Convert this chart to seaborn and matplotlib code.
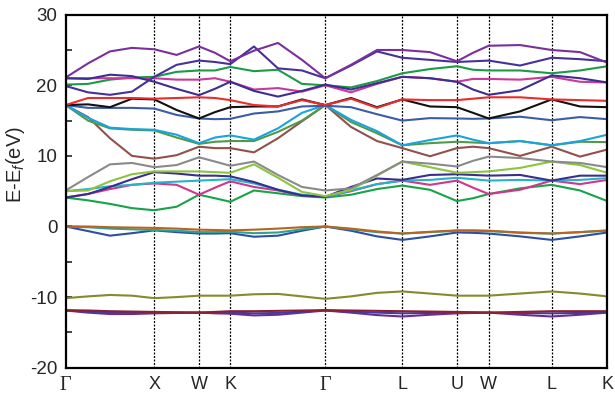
import matplotlib
matplotlib.use("Agg")
import matplotlib.pyplot as plt
from matplotlib.ticker import MultipleLocator
import pandas as pd
import seaborn as sns

# High-symmetry points of the fcc Brillouin-zone path
sym_labels = ["Γ", "X", "W", "K", "Γ", "L", "U", "W", "L", "K"]
sym_k = [0.0, 1.0, 1.505, 1.858, 2.930, 3.799, 4.416, 4.774, 5.485, 6.113]

# k-points along the path where the band energies are tabulated
kpts = [0.0, 0.252, 0.5, 0.748, 1.0, 1.252, 1.505, 1.685, 1.858, 2.125, 2.396, 2.667,
        2.930, 3.220, 3.514, 3.799, 4.112, 4.416, 4.597, 4.774, 5.128, 5.485, 5.805, 6.113]

# Band energies E - E_f (eV)
purple_low = [-11.9, -12.2, -12.4, -12.4, -12.3, -12.25, -12.2, -12.3, -12.35, -12.6, -12.5, -12.2,
              -11.9, -12.2, -12.55, -12.75, -12.5, -12.3, -12.25, -12.2, -12.5, -12.75, -12.5, -12.2]
blue_low = [-11.9, -12.05, -12.15, -12.2, -12.2, -12.2, -12.2, -12.2, -12.2, -12.3, -12.25, -12.05,
            -11.9, -12.05, -12.2, -12.3, -12.25, -12.2, -12.2, -12.2, -12.25, -12.3, -12.25, -12.2]
darkred_low = [-11.85, -11.9, -12.0, -12.05, -12.1, -12.15, -12.2, -12.1, -12.0, -12.0, -11.95, -11.9,
               -11.85, -11.9, -11.95, -12.0, -12.05, -12.1, -12.15, -12.2, -12.1, -12.0, -12.0, -12.0]
olive = [-10.15, -9.9, -9.7, -9.8, -10.15, -10.0, -9.8, -9.8, -9.8, -9.6, -9.55, -9.9,
         -10.25, -9.9, -9.4, -9.2, -9.5, -9.8, -9.8, -9.8, -9.5, -9.2, -9.5, -9.9]
blue_v = [0.0, -0.65, -1.3, -0.95, -0.55, -0.8, -1.0, -1.0, -0.95, -1.45, -1.3, -0.6,
          0.0, -0.6, -1.4, -1.9, -1.4, -0.85, -0.9, -1.0, -1.4, -1.9, -1.4, -0.85]
teal_v = [0.0, -0.1, -0.3, -0.4, -0.5, -0.6, -0.8, -0.8, -0.75, -0.95, -0.85, -0.4,
          0.0, -0.4, -0.8, -1.0, -0.8, -0.6, -0.6, -0.65, -0.9, -1.0, -0.8, -0.6]
orange_v = [0.0, 0.0, -0.1, -0.15, -0.2, -0.3, -0.45, -0.5, -0.55, -0.45, -0.3, -0.1,
            0.0, -0.3, -0.7, -1.0, -0.75, -0.55, -0.55, -0.6, -0.85, -1.0, -0.8, -0.55]
green_c1 = [4.1, 3.7, 3.2, 2.6, 2.3, 2.8, 4.5, 4.0, 3.5, 5.1, 4.7, 4.3,
            4.1, 4.5, 5.3, 5.8, 5.2, 3.6, 4.0, 4.6, 5.4, 5.9, 5.1, 3.6]
magenta_c1 = [4.1, 4.6, 5.3, 5.9, 6.1, 5.9, 4.5, 5.5, 6.4, 5.6, 5.1, 4.4,
              4.2, 5.0, 6.0, 6.5, 5.9, 6.5, 5.5, 4.6, 5.2, 6.5, 6.0, 6.6]
teal_c1 = [5.0, 5.3, 5.7, 5.9, 6.2, 6.35, 6.5, 6.6, 6.7, 6.1, 5.2, 4.5,
           4.2, 5.1, 6.0, 6.5, 6.6, 6.9, 6.7, 6.5, 6.6, 6.5, 6.6, 6.85]
indigo_c1 = [4.1, 4.6, 5.6, 6.7, 7.7, 7.5, 7.2, 7.2, 7.1, 6.3, 5.2, 4.4,
             4.2, 5.6, 6.8, 6.6, 7.3, 7.4, 7.3, 7.2, 7.3, 6.5, 7.2, 7.2]
yellowgreen_c = [5.0, 5.1, 6.4, 7.4, 7.8, 7.8, 7.8, 7.7, 7.6, 8.8, 6.9, 4.9,
                 4.3, 5.2, 7.2, 9.2, 8.4, 7.6, 7.7, 7.8, 8.3, 9.2, 8.7, 7.6]
gray_c = [5.1, 7.0, 8.8, 9.0, 8.4, 8.7, 9.8, 9.2, 8.6, 9.2, 7.3, 5.6,
          5.1, 5.4, 7.3, 9.2, 8.9, 8.5, 9.3, 9.9, 9.7, 9.2, 9.0, 8.4]
brown_c = [17.2, 15.5, 12.5, 10.0, 9.6, 10.1, 11.3, 11.1, 11.1, 10.5, 12.5, 14.9,
           17.2, 14.1, 12.1, 11.1, 9.95, 11.1, 11.3, 11.1, 10.0, 11.3, 9.9, 10.9]
green_c2 = [17.2, 15.0, 13.9, 13.7, 13.6, 12.6, 11.7, 12.0, 12.1, 12.1, 13.4, 15.0,
            17.2, 14.8, 13.2, 11.5, 11.8, 12.0, 11.9, 11.8, 12.1, 11.5, 12.0, 11.95]
cyan_c = [17.2, 15.4, 14.0, 13.8, 13.7, 13.0, 11.8, 12.6, 12.9, 12.3, 13.9, 16.1,
          17.2, 15.1, 13.5, 11.5, 12.25, 12.9, 12.3, 11.8, 12.1, 11.5, 12.1, 13.0]
steel_c = [17.2, 16.8, 16.8, 16.8, 16.7, 15.8, 15.3, 15.2, 15.25, 16.0, 16.3, 17.0,
           17.1, 16.9, 15.9, 15.0, 15.35, 15.3, 15.25, 15.3, 15.55, 15.05, 15.5, 15.2]
black_c = [17.2, 17.3, 16.9, 18.1, 18.0, 16.5, 15.3, 16.2, 16.9, 17.0, 17.0, 18.0,
           17.2, 18.2, 16.9, 18.0, 17.0, 16.9, 16.1, 15.3, 16.3, 18.0, 17.0, 16.9]
red_c = [17.2, 18.2, 18.2, 18.2, 18.1, 18.2, 18.3, 18.2, 17.9, 17.2, 17.0, 17.9,
         17.2, 18.1, 16.8, 18.0, 17.9, 17.9, 18.1, 18.3, 18.3, 18.0, 17.9, 17.8]
green_c3 = [20.1, 20.2, 20.8, 21.1, 21.2, 21.9, 22.1, 22.1, 22.6, 22.0, 22.2, 20.2,
            20.0, 19.7, 20.6, 21.7, 22.3, 22.7, 22.2, 22.1, 22.1, 21.7, 22.1, 22.7]
magenta_c2 = [21.0, 21.0, 21.0, 21.0, 21.0, 20.8, 20.8, 21.0, 20.5, 19.4, 19.6, 19.1,
              20.0, 19.0, 20.2, 21.2, 21.0, 20.5, 20.9, 20.9, 20.8, 21.2, 20.5, 20.4]
indigo_c2 = [21.0, 20.9, 21.5, 21.3, 20.5, 19.5, 18.6, 19.5, 20.5, 19.2, 18.4, 19.2,
             20.1, 19.4, 20.3, 21.2, 21.0, 20.5, 19.4, 18.65, 19.3, 21.4, 21.0, 20.4]
indigo_c3 = [19.9, 19.0, 18.65, 19.1, 21.2, 22.9, 23.5, 23.3, 23.0, 25.5, 22.4, 22.1,
             21.0, 22.8, 24.8, 23.9, 23.6, 23.3, 23.4, 23.5, 22.8, 23.9, 23.7, 23.4]
purple_top = [21.1, 23.1, 24.8, 25.3, 25.1, 24.3, 25.5, 24.6, 23.4, 24.9, 26.0, 23.6,
              21.0, 22.9, 25.0, 25.0, 24.7, 23.4, 24.6, 25.6, 25.7, 25.0, 24.7, 23.2]

bands = {
    "purple_low": (purple_low, "#6c2b93"),
    "blue_low": (blue_low, "#3c3ea0"),
    "darkred_low": (darkred_low, "#8e1f2f"),
    "olive": (olive, "#858a2a"),
    "blue_v": (blue_v, "#2e4fa0"),
    "teal_v": (teal_v, "#2aa39a"),
    "orange_v": (orange_v, "#b8651f"),
    "green_c1": (green_c1, "#17a348"),
    "magenta_c1": (magenta_c1, "#d2358c"),
    "teal_c1": (teal_c1, "#22b4c8"),
    "indigo_c1": (indigo_c1, "#3a2d90"),
    "yellowgreen_c": (yellowgreen_c, "#8cc440"),
    "gray_c": (gray_c, "#8a8a8a"),
    "brown_c": (brown_c, "#93504a"),
    "green_c2": (green_c2, "#4f9a48"),
    "cyan_c": (cyan_c, "#1aa3de"),
    "steel_c": (steel_c, "#3b5ca6"),
    "black_c": (black_c, "#111111"),
    "red_c": (red_c, "#ee2b2b"),
    "green_c3": (green_c3, "#1b9a48"),
    "magenta_c2": (magenta_c2, "#c9399a"),
    "indigo_c2": (indigo_c2, "#3f2d8f"),
    "indigo_c3": (indigo_c3, "#46309a"),
    "purple_top": (purple_top, "#7b2f9e"),
}

rows = []
for name, (energies, _) in bands.items():
    for k, e in zip(kpts, energies):
        rows.append({"k": k, "E": e, "band": name})
df = pd.DataFrame(rows)
palette = {name: color for name, (_, color) in bands.items()}

sns.set_style("white")
plt.rcParams["mathtext.fontset"] = "custom"
plt.rcParams["mathtext.rm"] = "Liberation Sans"
plt.rcParams["mathtext.it"] = "Liberation Sans:italic"
plt.rcParams["font.family"] = ["Liberation Sans", "DejaVu Sans"]
plt.rcParams["axes.unicode_minus"] = False

fig = plt.figure(figsize=(6.15, 3.96), dpi=100)
ax = fig.add_axes([0.1068, 0.0715, 0.8807, 0.8914])

# dotted guides at the interior high-symmetry points
for k in sym_k[1:-1]:
    ax.axvline(k, color="black", linestyle=(0, (1.6, 1.2)), linewidth=0.9, zorder=1)

sns.lineplot(data=df, x="k", y="E", hue="band", palette=palette, hue_order=list(bands),
             units="band", estimator=None, sort=False, linewidth=1.5, legend=False, ax=ax)
for line in ax.lines:
    line.set_solid_joinstyle("round")

ax.set_xlim(sym_k[0], sym_k[-1])
ax.set_ylim(-20, 30)
ax.yaxis.set_major_locator(MultipleLocator(10))
ax.yaxis.set_minor_locator(MultipleLocator(5))
ax.tick_params(axis="y", which="both", direction="in", length=4.5, width=1.2,
               labelsize=13.5, pad=6, left=True, right=False)
ax.set_xticks(sym_k)
ax.set_xticklabels(sym_labels)
ax.tick_params(axis="x", length=0, pad=6)
for lab in ax.get_xticklabels():
    if lab.get_text() == "Γ":
        lab.set_fontfamily("Liberation Serif")
        lab.set_fontsize(14.5)
    else:
        lab.set_fontsize(13)

for sp in ax.spines.values():
    sp.set_linewidth(1.6)
    sp.set_color("black")

ax.set_xlabel("")
ax.set_ylabel("E-E$_f$(eV)", fontsize=14.5)
ax.yaxis.set_label_coords(-0.072, 0.575)

fig.savefig("out.png", dpi=100)
